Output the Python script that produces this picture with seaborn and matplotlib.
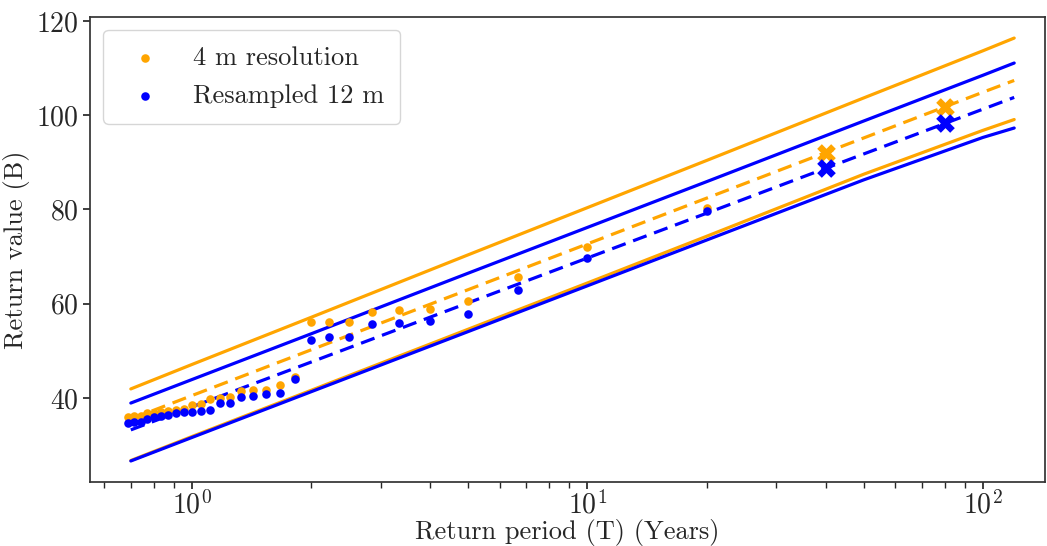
import numpy as np
import pandas as pd
import matplotlib
matplotlib.use("Agg")
import matplotlib.pyplot as plt
import seaborn as sns

# Empirical return periods (years) for the plotted maxima
period = [0.690, 0.714, 0.741, 0.769, 0.800, 0.833, 0.870, 0.909, 0.952, 1.000,
          1.053, 1.111, 1.176, 1.250, 1.333, 1.429, 1.538, 1.667, 1.818, 2.000,
          2.222, 2.500, 2.857, 3.333, 4.000, 5.000, 6.667, 10.00, 20.00]

# Observed return values (B)
res_4m = [35.9, 36.1, 36.2, 36.8, 36.8, 37.0, 37.2, 37.4, 37.7, 38.4,
          38.8, 39.7, 40.0, 40.1, 41.4, 41.6, 41.6, 42.7, 44.5, 56.2,
          56.2, 56.2, 58.3, 58.7, 58.8, 60.6, 65.7, 72.1, 80.4]
res_12m = [34.7, 34.9, 34.9, 35.6, 36.0, 36.2, 36.3, 36.7, 36.9, 37.0,
           37.2, 37.5, 39.0, 39.0, 40.2, 40.4, 40.9, 41.1, 44.0, 52.3,
           53.0, 53.0, 55.7, 56.0, 56.4, 57.9, 62.9, 69.6, 79.7]

# Fitted curves with confidence bounds
fit_period = [0.7, 1, 2, 5, 10, 20, 50, 100, 120]
fit_4m = [35.5, 40.5, 50.2, 63.0, 72.7, 82.4, 95.2, 104.9, 107.4]
upper_4m = [41.9, 47.1, 57.1, 70.4, 80.4, 90.4, 103.7, 113.7, 116.4]
lower_4m = [26.7, 31.8, 41.6, 54.6, 64.4, 74.3, 87.5, 96.8, 99.1]
fit_12m = [33.2, 38.1, 47.6, 60.2, 69.7, 79.2, 91.8, 101.3, 103.8]
upper_12m = [38.9, 43.9, 53.6, 66.5, 76.2, 85.9, 98.8, 108.5, 111.1]
lower_12m = [26.6, 31.6, 41.3, 54.1, 63.8, 73.5, 86.3, 95.3, 97.3]

# Return levels at 40 and 80 years
rl_period = [40, 80]
rl_4m = [92.0, 101.7]
rl_12m = [88.8, 98.3]

sns.set_theme(style="ticks")
plt.rcParams["font.family"] = "serif"
plt.rcParams["font.serif"] = ["cmr10", "DejaVu Serif"]
plt.rcParams["mathtext.fontset"] = "cm"
plt.rcParams["axes.formatter.use_mathtext"] = True
plt.rcParams["axes.unicode_minus"] = False

fig, ax = plt.subplots(figsize=(10.47, 5.46), dpi=100)
fig.subplots_adjust(left=0.086, right=0.998, bottom=0.117, top=0.969)

orange = "orange"
blue = "blue"
dashed = (0, (4.5, 2.5))

for vals, col, ls in [(upper_4m, orange, "-"), (lower_4m, orange, "-"),
                      (fit_4m, orange, dashed), (upper_12m, blue, "-"),
                      (lower_12m, blue, "-"), (fit_12m, blue, dashed)]:
    sns.lineplot(x=fit_period, y=vals, color=col, linestyle=ls, lw=2.3,
                 ax=ax, legend=False, sort=False)

sns.scatterplot(x=period, y=res_4m, color=orange, s=38, linewidth=0,
                ax=ax, label="4 m resolution", zorder=3)
sns.scatterplot(x=period, y=res_12m, color=blue, s=38, linewidth=0,
                ax=ax, label="Resampled 12 m", zorder=3)

sns.scatterplot(x=rl_period, y=rl_4m, color=orange, marker="X", s=180,
                linewidth=0, ax=ax, legend=False, zorder=4)
sns.scatterplot(x=rl_period, y=rl_12m, color=blue, marker="X", s=180,
                linewidth=0, ax=ax, legend=False, zorder=4)

ax.set_xscale("log")
ax.set_xlim(0.552, 143.5)
ax.set_xlabel("Return period (T) (Years)", fontsize=19, labelpad=0)
ax.set_ylabel("Return value (B)", fontsize=19, labelpad=4)
ax.tick_params(axis="both", which="major", labelsize=20, length=5)
ax.tick_params(axis="x", which="both", pad=1)
ax.set_yticks([40, 60, 80, 100, 120])
for s in ax.spines.values():
    s.set_visible(True)
    s.set_color("#333333")

leg = ax.legend(loc="upper left", fontsize=19, markerscale=1.0,
                borderpad=0.6, labelspacing=0.55)

fig.savefig("out.png", dpi=100)
